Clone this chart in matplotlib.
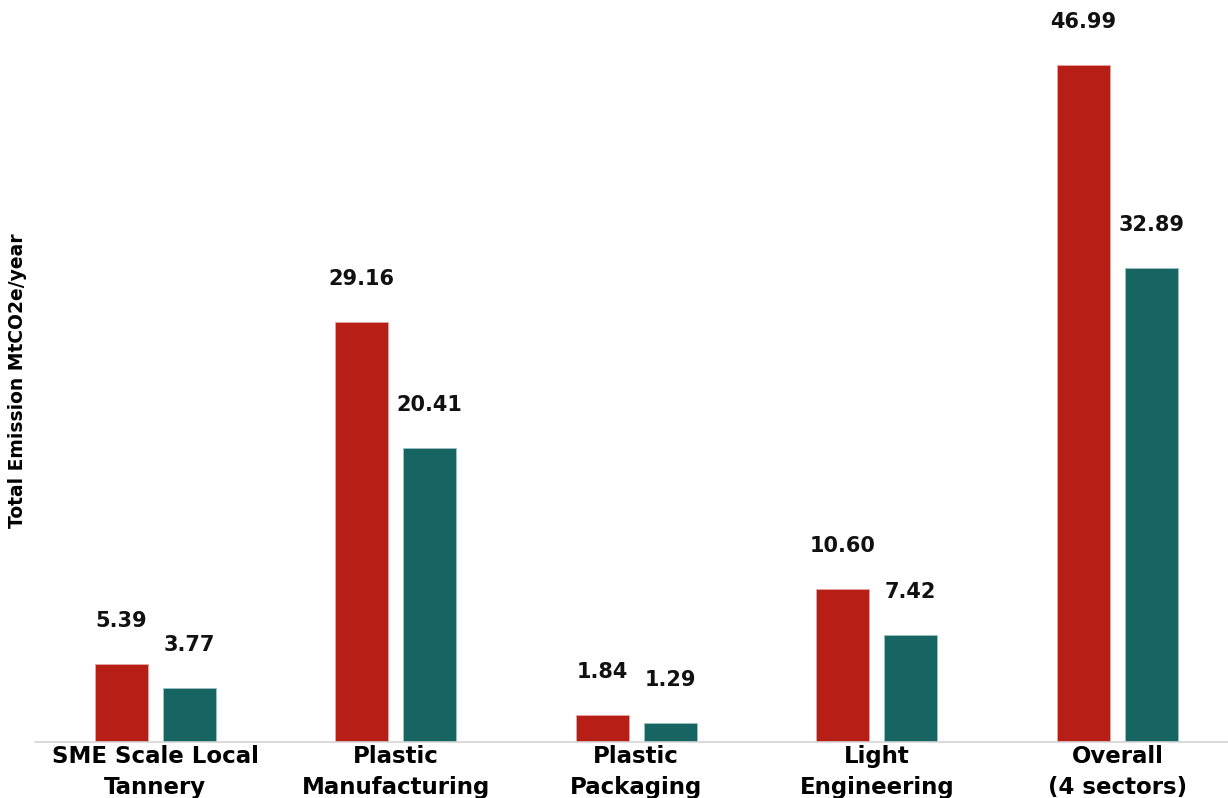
import numpy as np
import matplotlib
matplotlib.use("Agg")
import matplotlib.pyplot as plt

categories = ["SME Scale Local\nTannery", "Plastic\nManufacturing", "Plastic\nPackaging",
              "Light\nEngineering", "Overall\n(4 sectors)"]
series_a = [5.39, 29.16, 1.84, 10.60, 46.99]   # red
series_b = [3.77, 20.41, 1.29, 7.42, 32.89]    # teal

red = "#b71e16"
teal = "#176563"

fig = plt.figure(figsize=(12.28, 7.98), dpi=100)
ax = fig.add_axes([35 / 1228, 56 / 798, 1 - 35 / 1228, 742 / 798])

x = np.arange(len(categories))
w = 0.22
off = 0.141
bars_a = ax.bar(x - off, series_a, w, color=red, edgecolor="#e8a5a0", linewidth=0.6)
bars_b = ax.bar(x + off, series_b, w, color=teal, edgecolor="#9cc4c2", linewidth=0.6)

for bars, vals in ((bars_a, series_a), (bars_b, series_b)):
    for b, v in zip(bars, vals):
        ax.annotate("%.2f" % v, (b.get_x() + b.get_width() / 2, v),
                    xytext=(0, 31), textcoords="offset points",
                    ha="center", va="center", fontsize=15, fontweight="bold",
                    color="#111111")

ax.set_xlim(-0.5, 4.46)
ax.set_ylim(0, 51.5)
ax.set_xticks(x)
ax.set_xticklabels(categories, fontsize=16.5, fontweight="bold", linespacing=1.45)
ax.tick_params(axis="x", length=0, pad=2)
ax.set_yticks([])
for s in ("top", "right", "left"):
    ax.spines[s].set_visible(False)
ax.spines["bottom"].set_color("#d4d4d4")
ax.spines["bottom"].set_linewidth(1.2)

fig.text(18 / 1228, 1 - 381 / 798, "Total Emission MtCO2e/year", rotation=90,
         ha="center", va="center", fontsize=13.5, fontweight="bold")

fig.savefig("out.png", dpi=100)
